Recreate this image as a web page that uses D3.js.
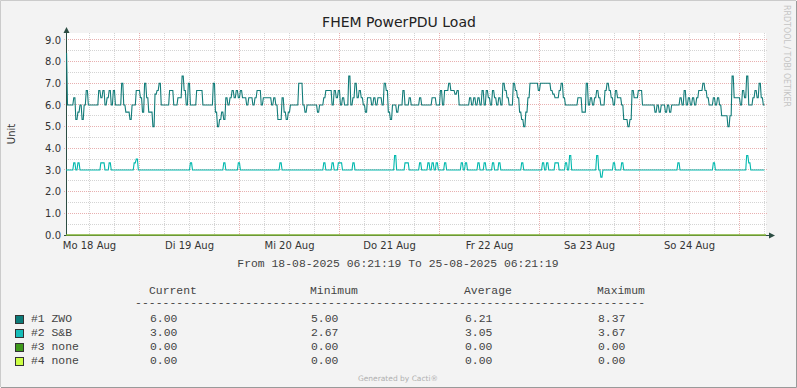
<!DOCTYPE html>
<html>
<head>
<meta charset="utf-8">
<title>FHEM PowerPDU Load</title>
<script src="https://cdn.jsdelivr.net/npm/d3@7"></script>
<style>
  html, body { margin: 0; padding: 0; background: #f3f3f3; }
  svg { display: block; }
</style>
</head>
<body>
<script>
// DATA - one sample every 30 minutes, 18-08-2025 06:21:19 .. 25-08-2025 06:21:19
var zwo = [
  8.37, 6.0, 6.0, 6.0, 6.33, 5.33, 5.67, 6.0, 5.33, 6.0, 6.67, 6.0, 6.0, 6.0, 6.0, 6.0, 6.67, 6.33, 6.67, 6.0, 6.33, 6.67, 6.0, 6.67,
  6.0, 6.0, 6.0, 7.0, 6.0, 5.67, 5.67, 5.33, 6.0, 6.0, 6.67, 6.67, 6.33, 5.67, 7.0, 6.33, 5.67, 5.67, 5.0, 6.5, 6.67, 7.0, 6.0, 6.0,
  6.0, 6.0, 6.67, 6.67, 6.0, 6.0, 6.33, 6.33, 7.33, 6.67, 6.0, 7.0, 6.0, 6.0, 6.0, 6.67, 6.67, 6.67, 6.0, 6.0, 6.0, 6.0, 6.0, 7.0,
  5.67, 5.0, 5.33, 5.67, 5.33, 6.33, 6.0, 6.33, 6.67, 6.33, 6.67, 6.33, 6.67, 6.33, 6.33, 6.0, 6.33, 6.33, 6.0, 6.33, 6.67, 6.67, 6.0, 6.33,
  6.33, 6.33, 6.33, 6.0, 6.33, 6.0, 5.33, 5.33, 6.33, 5.67, 5.33, 5.67, 6.0, 6.0, 6.0, 6.0, 7.0, 7.0, 6.0, 5.67, 6.0, 6.0, 6.0, 6.0,
  6.0, 5.67, 6.0, 6.0, 6.33, 6.67, 6.67, 6.67, 6.0, 6.67, 6.33, 6.67, 6.0, 6.33, 6.0, 6.0, 7.33, 6.0, 6.33, 7.0, 6.33, 6.67, 6.33, 6.0,
  5.67, 6.33, 6.33, 6.0, 6.33, 6.0, 6.33, 6.33, 6.0, 7.0, 6.67, 5.67, 5.33, 6.0, 6.0, 5.67, 6.0, 6.0, 6.67, 6.0, 6.0, 6.33, 6.0, 6.0,
  6.0, 6.0, 6.33, 6.0, 6.0, 6.0, 6.0, 6.0, 6.33, 6.33, 6.0, 6.0, 6.67, 6.0, 6.67, 6.67, 7.0, 6.67, 6.67, 6.5, 6.67, 6.0, 6.0, 6.0,
  6.0, 6.0, 6.33, 6.0, 6.33, 6.0, 6.33, 6.0, 6.67, 6.0, 6.67, 6.33, 6.0, 6.67, 6.33, 6.0, 6.33, 6.0, 7.0, 6.67, 6.33, 6.0, 6.0, 7.0,
  6.67, 6.33, 5.67, 5.33, 5.0, 5.67, 6.33, 7.0, 7.0, 7.0, 7.0, 6.67, 7.0, 7.0, 7.0, 7.0, 7.0, 6.67, 6.5, 6.33, 6.33, 6.67, 7.0, 6.33,
  6.0, 6.0, 6.0, 6.0, 6.0, 6.0, 6.33, 6.33, 5.67, 5.67, 7.0, 6.0, 6.33, 6.0, 6.33, 6.67, 6.33, 6.0, 6.0, 6.67, 7.0, 6.67, 6.33, 6.0,
  6.67, 6.33, 6.33, 6.0, 5.33, 5.33, 5.0, 5.33, 6.67, 6.33, 6.33, 6.67, 6.67, 6.0, 6.0, 6.0, 6.0, 6.0, 6.0, 5.67, 6.0, 5.67, 6.0, 6.0,
  5.67, 6.0, 5.67, 6.0, 6.0, 6.0, 6.0, 6.33, 6.0, 6.67, 6.0, 6.33, 6.0, 6.33, 6.0, 6.33, 6.67, 6.67, 7.0, 6.67, 6.33, 6.0, 6.0, 6.33,
  6.0, 6.33, 6.0, 5.5, 5.5, 5.5, 5.0, 5.5, 7.33, 6.33, 6.33, 6.33, 6.0, 6.67, 6.33, 7.33, 6.0, 6.0, 6.33, 6.67, 6.33, 7.0, 6.33, 6.0
];

var snb = [
  3, 3, 3, 3, 3.33, 3, 3.33, 3, 3, 3, 3, 3, 3, 3, 3, 3, 3, 3.33, 3.33, 3, 3, 3.33, 3, 3,
  3, 3, 3, 3, 3, 3, 3, 3, 3, 3.33, 3.5, 3, 3, 3, 3, 3, 3, 3, 3, 3, 3, 3, 3, 3,
  3, 3, 3, 3, 3, 3, 3, 3, 3, 3, 3, 3, 3.33, 3, 3, 3, 3, 3, 3, 3, 3, 3, 3, 3,
  3, 3, 3, 3, 3.33, 3, 3, 3, 3, 3, 3, 3.33, 3, 3, 3, 3, 3, 3, 3, 3, 3, 3, 3, 3,
  3, 3, 3, 3, 3, 3, 3, 3.33, 3, 3, 3, 3, 3, 3, 3, 3, 3, 3, 3, 3, 3, 3, 3, 3,
  3, 3, 3, 3, 3.33, 3, 3, 3, 3.33, 3, 3, 3.33, 3.33, 3, 3, 3, 3, 3, 3.33, 3, 3, 3, 3, 3,
  3, 3, 3, 3, 3, 3, 3, 3, 3, 3, 3, 3, 3, 3, 3.67, 3, 3, 3, 3, 3.33, 3.33, 3, 3, 3,
  3, 3, 3.33, 3, 3, 3, 3.33, 3, 3.33, 3, 3.33, 3, 3, 3, 3.33, 3, 3, 3, 3, 3, 3, 3, 3.33, 3,
  3.33, 3, 3, 3, 3, 3, 3.33, 3, 3, 3.33, 3, 3, 3, 3.33, 3, 3, 3.33, 3, 3, 3, 3, 3, 3, 3,
  3, 3, 3, 3.33, 3, 3, 3, 3, 3, 3, 3, 3, 3, 3.33, 3, 3.33, 3, 3, 3, 3.33, 3.33, 3, 3, 3,
  3.33, 3, 3.67, 3, 3, 3, 3, 3, 3, 3, 3, 3, 3, 3, 3, 3.67, 3, 2.67, 3, 3, 3, 3, 3, 3.33,
  3, 3, 3, 3.33, 3, 3, 3, 3, 3, 3, 3, 3, 3, 3, 3, 3, 3, 3, 3, 3, 3, 3, 3, 3,
  3, 3, 3, 3, 3, 3, 3.33, 3, 3, 3, 3, 3, 3, 3, 3, 3, 3, 3, 3, 3, 3, 3, 3, 3.33,
  3, 3, 3, 3, 3, 3, 3, 3, 3, 3, 3, 3, 3, 3, 3, 3.67, 3.33, 3, 3, 3, 3, 3, 3, 3
];

// #3 and #4 are flat at zero over the whole range (start, end)
var none3 = [0.00, 0.00];
var none4 = [0.00, 0.00];

var yTickValues = [0, 1, 2, 3, 4, 5, 6, 7, 8, 9];
var dayLabels = ['Mo 18 Aug', 'Di 19 Aug', 'Mi 20 Aug', 'Do 21 Aug', 'Fr 22 Aug', 'Sa 23 Aug', 'So 24 Aug'];

var legendNames = ['#1 ZWO', '#2 S&B', '#3 none', '#4 none'];
var statCurrent = [6.00, 3.00, 0.00, 0.00];
var statMinimum = [5.00, 2.67, 0.00, 0.00];
var statAverage = [6.21, 3.05, 0.00, 0.00];
var statMaximum = [8.37, 3.67, 0.00, 0.00];

var startTime = new Date(2025, 7, 18, 6, 21, 19);
var endTime = new Date(2025, 7, 25, 6, 21, 19);
var stepMs = 30 * 60 * 1000;

// LAYOUT
var width = 797, height = 388;
var plotLeft = 66, plotRight = 766, plotTop = 33, plotBottom = 235;
var colors = ['#127c79', '#00b8ad', '#3f9a1c', '#ccff44'];
var legendColors = ['#0b7b79', '#16bdb9', '#3f9a1c', '#ccff44'];
var mono = "'Liberation Mono', 'Courier New', monospace";
var sans = "'DejaVu Sans', sans-serif";
var textGrey = '#333';
var monoGrey = '#444';

var svg = d3.select('body')
    .append('svg')
    .attr('width', width)
    .attr('height', height);

svg.append('rect')
    .attr('width', width)
    .attr('height', height)
    .attr('fill', '#f3f3f3');

// frame shade
svg.append('path').attr('d', 'M0.5,387 V0.5 H796').attr('stroke', '#cbcbcb').attr('fill', 'none');
svg.append('path').attr('d', 'M1,387.5 H796.5 V1').attr('stroke', '#999').attr('fill', 'none');

svg.append('rect')
    .attr('x', plotLeft)
    .attr('y', plotTop)
    .attr('width', plotRight - plotLeft)
    .attr('height', plotBottom - plotTop)
    .attr('fill', '#ffffff');

var x = d3.scaleTime().domain([startTime, endTime]).range([plotLeft, plotRight]);
var y = d3.scaleLinear().domain([0, 9.32]).range([plotBottom, plotTop]);

var px = function (v) { return Math.floor(v) + 0.5; };

// grid
var grid = svg.append('g').attr('stroke-dasharray', '1,1').attr('stroke-width', 1);

var minorY = d3.range(0.5, 9.3, 1);
grid.selectAll('.ymin')
    .data(minorY)
    .enter().append('line')
    .attr('x1', plotLeft).attr('x2', plotRight + 2)
    .attr('y1', d => px(y(d))).attr('y2', d => px(y(d)))
    .attr('stroke', '#d4d4d4');

var sixHours = d3.timeHour.every(6).range(startTime, endTime).filter(d => d.getHours() !== 0);
grid.selectAll('.xmin')
    .data(sixHours)
    .enter().append('line')
    .attr('x1', d => px(x(d))).attr('x2', d => px(x(d)))
    .attr('y1', plotTop).attr('y2', plotBottom + 2)
    .attr('stroke', '#d4d4d4');

grid.selectAll('.ymaj')
    .data(yTickValues.slice(1))
    .enter().append('line')
    .attr('x1', plotLeft - 2).attr('x2', plotRight + 2)
    .attr('y1', d => px(y(d))).attr('y2', d => px(y(d)))
    .attr('stroke', '#e8b0b0');

var midnights = d3.timeDay.range(startTime, endTime);
grid.selectAll('.xmaj')
    .data(midnights)
    .enter().append('line')
    .attr('x1', d => px(x(d))).attr('x2', d => px(x(d)))
    .attr('y1', plotTop).attr('y2', plotBottom + 2)
    .attr('stroke', '#e8b0b0');

// y tick labels
svg.selectAll('.ylab')
    .data(yTickValues)
    .enter().append('text')
    .attr('x', 61)
    .attr('y', d => y(d) + 3.6)
    .attr('text-anchor', 'end')
    .attr('font-family', sans)
    .attr('font-size', '10px')
    .attr('fill', textGrey)
    .text(d3.format('.1f'));

// x labels at noon
var noonTicks = d3.timeHour.every(12).range(startTime, endTime).filter(d => d.getHours() === 12);
svg.selectAll('.xlab')
    .data(noonTicks)
    .enter().append('text')
    .attr('x', d => x(d))
    .attr('y', 249)
    .attr('text-anchor', 'middle')
    .attr('font-family', sans)
    .attr('font-size', '10px')
    .attr('fill', textGrey)
    .text((d, i) => dayLabels[i]);

// data lines
svg.append('clipPath').attr('id', 'plot')
    .append('rect').attr('x', plotLeft).attr('y', plotTop - 10)
    .attr('width', plotRight - plotLeft).attr('height', plotBottom - plotTop + 12);

var halfBucket = 500 * 1000;
function samplePoints(arr) {
    var pts = [];
    arr.forEach(function (v, i) {
        var t = startTime.getTime() + i * stepMs;
        pts.push([new Date(t - halfBucket), v]);
        pts.push([new Date(t + halfBucket), v]);
    });
    return pts;
}
function spanPoints(arr) {
    return arr.map((v, i) => [i === 0 ? startTime : endTime, v]);
}

var line = d3.line()
    .x(d => x(d[0]))
    .y(d => y(d[1]));

// axes
svg.append('line')
    .attr('x1', plotLeft + 0.5).attr('x2', plotLeft + 0.5)
    .attr('y1', plotBottom + 1).attr('y2', plotTop - 4)
    .attr('stroke', '#2c4d43');
svg.append('path')
    .attr('d', 'M63.5,33 L69.5,33 L66.5,27 Z')
    .attr('fill', '#2c4d43');
svg.append('line')
    .attr('x1', plotLeft - 2).attr('x2', plotRight + 5)
    .attr('y1', plotBottom + 0.5).attr('y2', plotBottom + 0.5)
    .attr('stroke', '#2c4d43');
svg.append('path')
    .attr('d', 'M769,232.5 L769,238.5 L775,235.5 Z')
    .attr('fill', '#2c4d43');

var plot = svg.append('g').attr('clip-path', 'url(#plot)').attr('fill', 'none');
plot.append('path').attr('d', line(samplePoints(zwo))).attr('stroke', colors[0]).attr('stroke-width', 1.1);
plot.append('path').attr('d', line(samplePoints(snb))).attr('stroke', colors[1]).attr('stroke-width', 1.1);
plot.append('path').attr('d', line(spanPoints(none4))).attr('stroke', colors[3]).attr('stroke-width', 1);
plot.append('path').attr('d', line(spanPoints(none3))).attr('stroke', '#5a8a2a').attr('stroke-width', 1);

// titles
svg.append('text')
    .attr('x', 399).attr('y', 27)
    .attr('text-anchor', 'middle')
    .attr('font-family', sans)
    .attr('font-size', '14px')
    .attr('fill', '#222')
    .text('FHEM PowerPDU Load');

svg.append('text')
    .attr('transform', 'translate(14.5,134) rotate(-90)')
    .attr('text-anchor', 'middle')
    .attr('font-family', sans)
    .attr('font-size', '10px')
    .attr('fill', textGrey)
    .text('Unit');

svg.append('text')
    .attr('transform', 'translate(784,5) rotate(90)')
    .attr('font-family', sans)
    .attr('font-size', '8.5px')
    .attr('textLength', 102)
    .attr('lengthAdjust', 'spacingAndGlyphs')
    .attr('fill', '#c4c4c4')
    .text('RRDTOOL / TOBI OETIKER');

var fmtDate = d3.timeFormat('%d-%m-%Y %H:%M:%S');
svg.append('text')
    .attr('x', 398).attr('y', 267)
    .attr('text-anchor', 'middle')
    .attr('font-family', mono)
    .attr('font-size', '11.4px')
    .attr('fill', monoGrey)
    .text('From ' + fmtDate(startTime) + ' To ' + fmtDate(endTime));

// legend table
var cols = [149, 310, 464, 597];
var headers = ['Current', 'Minimum', 'Average', 'Maximum'];
svg.selectAll('.hdr')
    .data(headers)
    .enter().append('text')
    .attr('x', (d, i) => cols[i])
    .attr('y', 294)
    .attr('font-family', mono)
    .attr('font-size', '11.4px')
    .attr('fill', monoGrey)
    .text(d => d);

svg.append('text')
    .attr('x', 135).attr('y', 306)
    .attr('font-family', mono)
    .attr('font-size', '11.4px')
    .attr('fill', monoGrey)
    .attr('textLength', 510)
    .attr('lengthAdjust', 'spacing')
    .text('-'.repeat(74));

var fmt = d3.format('.2f');
var rows = svg.selectAll('.row')
    .data(legendNames)
    .enter().append('g')
    .attr('transform', (d, i) => 'translate(0,' + (i * 14) + ')');

rows.append('rect')
    .attr('x', 15.5).attr('y', 315.5)
    .attr('width', 8).attr('height', 8)
    .attr('fill', (d, i) => legendColors[i])
    .attr('stroke', '#333');

rows.append('text')
    .attr('x', 31).attr('y', 322)
    .attr('font-family', mono)
    .attr('font-size', '11.4px')
    .attr('fill', monoGrey)
    .text(d => d);

[statCurrent, statMinimum, statAverage, statMaximum].forEach(function (stat, c) {
    rows.append('text')
        .attr('x', cols[c] + 1)
        .attr('y', 322)
        .attr('font-family', mono)
        .attr('font-size', '11.4px')
        .attr('fill', monoGrey)
        .text((d, i) => fmt(stat[i]));
});

svg.append('text')
    .attr('x', 398).attr('y', 381)
    .attr('text-anchor', 'middle')
    .attr('font-family', sans)
    .attr('font-size', '7.5px')
    .attr('fill', '#b0b0b0')
    .text('Generated by Cacti\u00ae');
</script>
</body>
</html>
